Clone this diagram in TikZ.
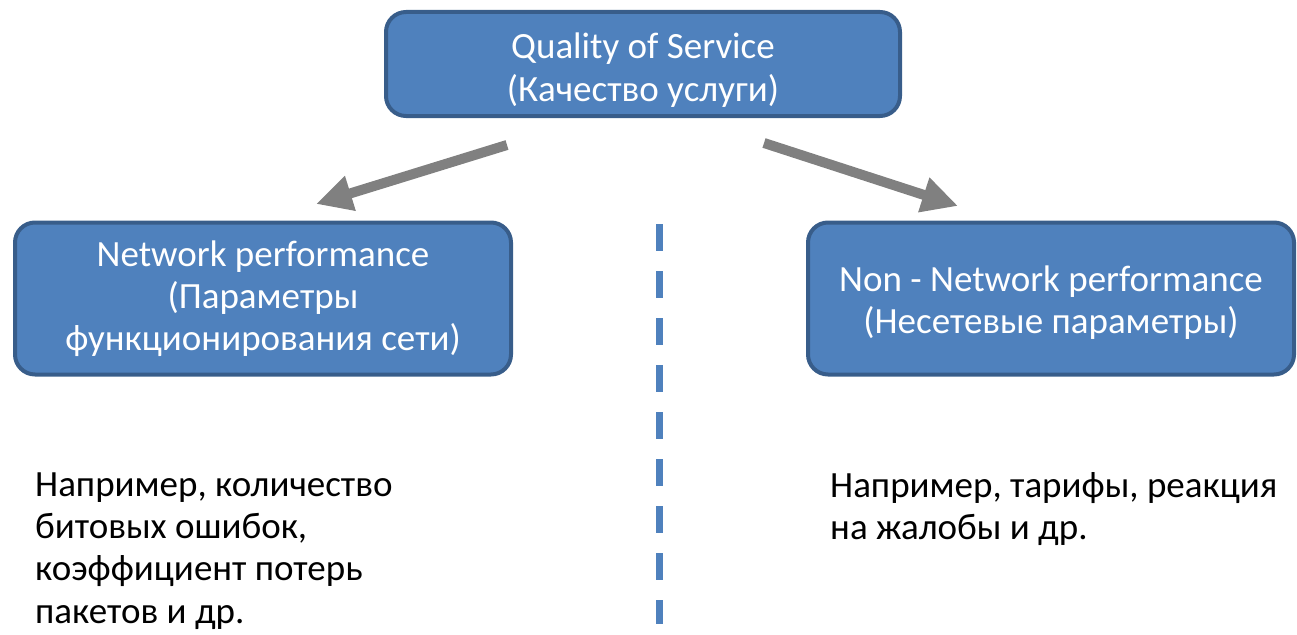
\documentclass[tikz,border=0pt]{standalone}
\usepackage{fontspec}
\setmainfont{Carlito}
\usetikzlibrary{arrows.meta}
\definecolor{boxfill}{HTML}{4F81BD}
\definecolor{boxline}{HTML}{385D8A}
\definecolor{arrgray}{HTML}{808080}
\begin{document}
\begin{tikzpicture}[x=1pt,y=-1pt,
  box/.style={draw=boxline, line width=4pt, fill=boxfill, rounded corners=20pt, text=white, align=center, font=\fontsize{37pt}{42.3pt}\selectfont, inner sep=0pt},
  note/.style={align=left, anchor=west, inner sep=0pt, font=\fontsize{37pt}{42.3pt}\selectfont},
  bigarrow/.style={draw=arrgray, line width=10pt, -{Triangle[length=36pt,width=34pt]}},
  divider/.style={draw=boxfill, line width=7pt, dash pattern=on 27pt off 20pt}]
\useasboundingbox (0,0) rectangle (1297,634);
\node[box, minimum width=514pt, minimum height=104pt] (qos) at (643,64) {\rule{0pt}{38pt}Quality of Service\\(Качество услуги)};
\node[box, minimum width=496pt, minimum height=152pt] (net) at (263,298.5) {Network performance\\(Параметры\\функционирования сети)};
\node[box, minimum width=486pt, minimum height=152pt] (nonnet) at (1051,298.5) {\rule{0pt}{34pt}Non - Network performance\\(Несетевые параметры)};
\coordinate (a1s) at (507,145);
\coordinate (a1e) at (316,204);
\coordinate (a2s) at (764,143);
\coordinate (a2e) at (958,206);
\draw[bigarrow] (a1s) -- (a1e);
\draw[bigarrow] (a2s) -- (a2e);
\coordinate (dtop) at (659,224);
\coordinate (dbot) at (659,624);
\draw[divider] (dtop) -- (dbot);
\node[note] (leftnote) at (35,551) {Например, количество\\битовых ошибок,\\коэффициент потерь\\пакетов и др.};
\node[note] (rightnote) at (830,509) {Например, тарифы, реакция\\на жалобы и др.};
\end{tikzpicture}
\end{document}
